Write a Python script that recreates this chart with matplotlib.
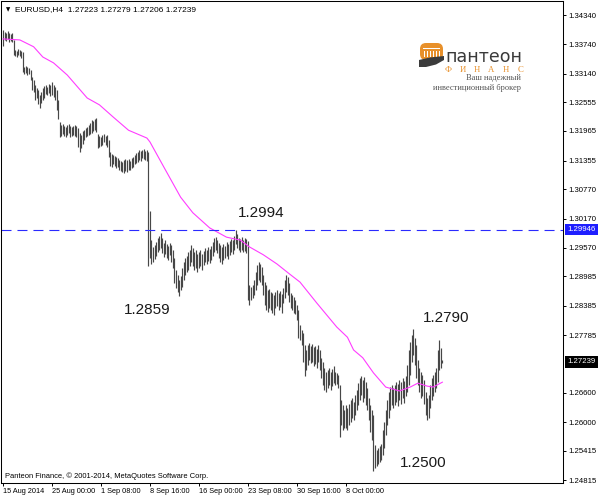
import numpy as np
import matplotlib
matplotlib.use('Agg')
import matplotlib.pyplot as plt
from matplotlib import transforms
from matplotlib.patches import FancyBboxPatch, Rectangle, Polygon

plt.rcParams['font.family'] = ['Liberation Sans', 'DejaVu Sans']
plt.rcParams['lines.scale_dashes'] = False

### DATA ###
symbol_header = 'EURUSD,H4  1.27223 1.27279 1.27206 1.27239'

# H4 bars, high / low per bar (bar index 0 = 15 Aug 2014)
high = [
    1.3403, 1.3399, 1.3397, 1.3401, 1.3397, 1.3395, 1.3397, 1.3383, 1.3362, 1.3360, 1.3364, 1.3362, 1.3360, 1.3358, 1.3328, 1.3330,
    1.3328, 1.3325, 1.3321, 1.3307, 1.3301, 1.3291, 1.3284, 1.3280, 1.3270, 1.3276, 1.3284, 1.3289, 1.3291, 1.3287, 1.3293, 1.3291,
    1.3297, 1.3291, 1.3287, 1.3280, 1.3260, 1.3215, 1.3209, 1.3211, 1.3207, 1.3205, 1.3209, 1.3211, 1.3207, 1.3205, 1.3207, 1.3209,
    1.3207, 1.3203, 1.3192, 1.3188, 1.3196, 1.3198, 1.3203, 1.3205, 1.3209, 1.3213, 1.3219, 1.3217, 1.3221, 1.3223, 1.3190, 1.3186,
    1.3184, 1.3188, 1.3190, 1.3186, 1.3188, 1.3178, 1.3153, 1.3149, 1.3147, 1.3145, 1.3143, 1.3141, 1.3137, 1.3135, 1.3133, 1.3137,
    1.3139, 1.3137, 1.3139, 1.3135, 1.3141, 1.3143, 1.3147, 1.3151, 1.3153, 1.3157, 1.3155, 1.3157, 1.3160, 1.3155, 1.3157, 1.3153,
    1.3033, 1.2973, 1.2959, 1.2963, 1.2969, 1.2977, 1.2981, 1.2988, 1.2977, 1.2967, 1.2973, 1.2965, 1.2961, 1.2967, 1.2963, 1.2953,
    1.2936, 1.2912, 1.2902, 1.2891, 1.2899, 1.2916, 1.2928, 1.2936, 1.2940, 1.2949, 1.2953, 1.2963, 1.2957, 1.2949, 1.2953, 1.2945,
    1.2949, 1.2953, 1.2945, 1.2951, 1.2957, 1.2953, 1.2959, 1.2955, 1.2961, 1.2969, 1.2977, 1.2979, 1.2973, 1.2967, 1.2963, 1.2959,
    1.2965, 1.2961, 1.2969, 1.2965, 1.2971, 1.2975, 1.2973, 1.2981, 1.2994, 1.2985, 1.2977, 1.2975, 1.2979, 1.2973, 1.2977, 1.2975,
    1.2971, 1.2881, 1.2877, 1.2881, 1.2891, 1.2908, 1.2922, 1.2928, 1.2924, 1.2918, 1.2902, 1.2887, 1.2881, 1.2871, 1.2873, 1.2867,
    1.2865, 1.2861, 1.2867, 1.2871, 1.2865, 1.2869, 1.2863, 1.2875, 1.2891, 1.2902, 1.2897, 1.2885, 1.2865, 1.2861, 1.2857, 1.2850,
    1.2840, 1.2830, 1.2799, 1.2789, 1.2783, 1.2758, 1.2748, 1.2758, 1.2762, 1.2756, 1.2760, 1.2754, 1.2756, 1.2750, 1.2758, 1.2748,
    1.2732, 1.2723, 1.2711, 1.2703, 1.2707, 1.2711, 1.2703, 1.2709, 1.2715, 1.2703, 1.2701, 1.2697, 1.2676, 1.2646, 1.2635, 1.2625,
    1.2635, 1.2629, 1.2637, 1.2646, 1.2650, 1.2641, 1.2656, 1.2666, 1.2680, 1.2691, 1.2695, 1.2686, 1.2693, 1.2682, 1.2670, 1.2650,
    1.2635, 1.2625, 1.2615, 1.2553, 1.2543, 1.2547, 1.2551, 1.2555, 1.2584, 1.2600, 1.2625, 1.2646, 1.2662, 1.2672, 1.2676, 1.2670,
    1.2676, 1.2682, 1.2678, 1.2686, 1.2682, 1.2691, 1.2684, 1.2695, 1.2717, 1.2748, 1.2764, 1.2779, 1.2790, 1.2772, 1.2758, 1.2727,
    1.2711, 1.2703, 1.2697, 1.2686, 1.2662, 1.2650, 1.2656, 1.2676, 1.2691, 1.2697, 1.2703, 1.2711, 1.2748, 1.2768, 1.2752, 1.27279,
]
low = [
    1.3371, 1.3383, 1.3381, 1.3385, 1.3379, 1.3381, 1.3379, 1.3352, 1.3350, 1.3348, 1.3352, 1.3350, 1.3346, 1.3317, 1.3313, 1.3315,
    1.3311, 1.3313, 1.3301, 1.3280, 1.3276, 1.3260, 1.3264, 1.3252, 1.3244, 1.3254, 1.3260, 1.3264, 1.3272, 1.3270, 1.3274, 1.3268,
    1.3270, 1.3266, 1.3260, 1.3240, 1.3221, 1.3184, 1.3186, 1.3190, 1.3186, 1.3184, 1.3188, 1.3192, 1.3184, 1.3186, 1.3188, 1.3186,
    1.3184, 1.3164, 1.3153, 1.3162, 1.3170, 1.3178, 1.3184, 1.3186, 1.3188, 1.3190, 1.3192, 1.3196, 1.3198, 1.3194, 1.3162, 1.3164,
    1.3166, 1.3168, 1.3174, 1.3168, 1.3164, 1.3143, 1.3125, 1.3123, 1.3129, 1.3125, 1.3121, 1.3123, 1.3116, 1.3114, 1.3112, 1.3110,
    1.3114, 1.3112, 1.3116, 1.3116, 1.3121, 1.3123, 1.3129, 1.3131, 1.3133, 1.3137, 1.3135, 1.3141, 1.3139, 1.3137, 1.3135, 1.2920,
    1.2936, 1.2924, 1.2928, 1.2934, 1.2940, 1.2949, 1.2953, 1.2957, 1.2947, 1.2938, 1.2945, 1.2936, 1.2932, 1.2943, 1.2928, 1.2916,
    1.2885, 1.2875, 1.2867, 1.2859, 1.2871, 1.2877, 1.2891, 1.2902, 1.2908, 1.2912, 1.2920, 1.2928, 1.2920, 1.2912, 1.2916, 1.2908,
    1.2916, 1.2920, 1.2912, 1.2922, 1.2928, 1.2924, 1.2930, 1.2926, 1.2932, 1.2940, 1.2949, 1.2953, 1.2947, 1.2936, 1.2928, 1.2924,
    1.2932, 1.2936, 1.2940, 1.2934, 1.2943, 1.2949, 1.2945, 1.2953, 1.2965, 1.2957, 1.2953, 1.2949, 1.2953, 1.2949, 1.2951, 1.2947,
    1.2850, 1.2840, 1.2850, 1.2854, 1.2861, 1.2871, 1.2881, 1.2891, 1.2887, 1.2881, 1.2861, 1.2840, 1.2830, 1.2826, 1.2834, 1.2830,
    1.2824, 1.2820, 1.2834, 1.2838, 1.2830, 1.2836, 1.2824, 1.2844, 1.2854, 1.2867, 1.2861, 1.2846, 1.2834, 1.2830, 1.2824, 1.2822,
    1.2809, 1.2772, 1.2768, 1.2758, 1.2723, 1.2695, 1.2707, 1.2717, 1.2727, 1.2721, 1.2723, 1.2715, 1.2719, 1.2711, 1.2723, 1.2707,
    1.2691, 1.2676, 1.2666, 1.2662, 1.2670, 1.2676, 1.2666, 1.2674, 1.2680, 1.2676, 1.2678, 1.2670, 1.2570, 1.2594, 1.2584, 1.2588,
    1.2588, 1.2584, 1.2594, 1.2600, 1.2609, 1.2605, 1.2615, 1.2625, 1.2635, 1.2646, 1.2656, 1.2641, 1.2650, 1.2635, 1.2625, 1.2605,
    1.2580, 1.2564, 1.2500, 1.2506, 1.2510, 1.2514, 1.2519, 1.2523, 1.2533, 1.2547, 1.2574, 1.2594, 1.2609, 1.2625, 1.2635, 1.2629,
    1.2635, 1.2641, 1.2633, 1.2646, 1.2637, 1.2650, 1.2639, 1.2654, 1.2662, 1.2676, 1.2697, 1.2723, 1.2738, 1.2717, 1.2691, 1.2676,
    1.2662, 1.2650, 1.2654, 1.2637, 1.2615, 1.2605, 1.2609, 1.2629, 1.2646, 1.2654, 1.2662, 1.2670, 1.2682, 1.2707, 1.2711, 1.27206,
]

# moving average (magenta), read at these bars
ma_idx = [0, 11, 20, 26, 33, 42, 55, 63, 72, 82, 94, 96, 105, 116, 124, 135, 146, 155, 161, 170,
          179, 187, 194, 205, 218, 225, 229, 235, 242, 250, 259, 266, 271, 277, 281, 287]
ma_val = [1.3385, 1.3383, 1.3369, 1.3348, 1.3336, 1.3311, 1.3264, 1.3250, 1.3225, 1.3198, 1.3182, 1.3174,
          1.3123, 1.3061, 1.3029, 1.2998, 1.2979, 1.2973, 1.2959, 1.2943, 1.2924, 1.2904, 1.2887, 1.2844,
          1.2795, 1.2774, 1.2748, 1.2732, 1.2701, 1.2672, 1.2664, 1.2672, 1.2680, 1.2674, 1.2672, 1.2682]

hline_level = 1.29946
last_price = 1.27239

xtick_pos = [0, 32, 64, 96, 128, 160, 192, 224]
xtick_labels = ['15 Aug 2014', '25 Aug 00:00', '1 Sep 08:00', '8 Sep 16:00',
                '16 Sep 00:00', '23 Sep 08:00', '30 Sep 16:00', '8 Oct 00:00']
ytick_vals = [1.34340, 1.33740, 1.33140, 1.32555, 1.31965, 1.31355, 1.30770, 1.30170,
              1.29570, 1.28985, 1.28385, 1.27785, 1.26600, 1.26000, 1.25415, 1.24815]

# level annotations: (bar, price, text)
notes = [(168.5, 1.3028, '1.2994'), (94, 1.2830, '1.2859'),
         (289.4, 1.2813, '1.2790'), (274.3, 1.2517, '1.2500')]

### FIGURE ###
W, H = 600, 499
fig = plt.figure(figsize=(6, 4.99), dpi=100)
ax = fig.add_axes([1 / W, 16 / H, 562 / W, 482 / H])

idx = np.arange(len(high))
ax.vlines(idx, low, high, colors='#474747', lw=0.85)
ax.plot(ma_idx, ma_val, color='#ff3cff', lw=0.8)
ax.axhline(hline_level, color='#2a2aff', lw=0.8, dashes=(7.2, 4.3))

ax.set_xlim(-1.3, 365.8)
ax.set_ylim(1.24755, 1.34627)

ax.set_xticks(xtick_pos)
ax.set_xticklabels(xtick_labels, ha='left', fontsize=5.3)
ax.yaxis.tick_right()
ax.set_yticks(ytick_vals)
ax.set_yticklabels([f'{v:.5f}' for v in ytick_vals], fontsize=5.6)
ax.tick_params(axis='both', length=2.2, width=0.7, pad=1.5, colors='black')
for s in ax.spines.values():
    s.set_linewidth(0.75)
    s.set_color('black')

# price labels on the right scale
trans = transforms.blended_transform_factory(ax.transAxes, ax.transData)
ax.text(1.0 + 4 / 562, hline_level, f'{hline_level:.5f}', transform=trans, ha='left', va='center',
        fontsize=5.6, color='white', clip_on=False,
        bbox=dict(boxstyle='square,pad=0.3', fc='#1e1eff', ec='none'))
ax.text(1.0 + 4 / 562, last_price, f'{last_price:.5f}', transform=trans, ha='left', va='center',
        fontsize=5.6, color='white', clip_on=False,
        bbox=dict(boxstyle='square,pad=0.3', fc='black', ec='none'))

for bx, by, t in notes:
    ax.text(bx, by, t, ha='center', va='center', fontsize=11, color='#1a1a1a')

# header and footer
fig.text(6 / W, 1 - 10 / H, '\u25bc', fontsize=4, va='center', family=['DejaVu Sans'])
fig.text(15 / W, 1 - 10 / H, symbol_header, fontsize=6, va='center')
fig.text(5 / W, 1 - 476 / H, 'Panteon Finance, \u00a9 2001-2014, MetaQuotes Software Corp.',
         fontsize=5.4, va='center')

# logo
lax = fig.add_axes([415 / W, 1 - 70 / H, 35 / W, 30 / H])
lax.set_xlim(415, 450)
lax.set_ylim(70, 40)
lax.axis('off')
lax.add_patch(FancyBboxPatch((420, 43), 23, 17, boxstyle='round,pad=0,rounding_size=6',
                             fc='#e8902a', ec='none'))
lax.add_patch(Rectangle((423, 48), 17, 1.3, fc='white', ec='none'))
for k in range(6):
    lax.add_patch(Rectangle((424 + 3 * k, 50.5), 1.3, 7, fc='white', ec='none'))
lax.add_patch(Polygon([(419, 67), (419, 60), (430, 57.5), (444, 56), (444, 60), (436, 64.5), (426, 67)],
                      closed=True, fc='#3b3b3b', ec='none'))

fig.text(445 / W, 1 - 62 / H, 'пантеон', fontsize=12.6, color='#3a3a3a', va='baseline',
         family=['DejaVu Sans'])
for k, ch in enumerate('ФИНАНС'):
    fig.text((448 + 14.5 * k) / W, 1 - 69.5 / H, ch, fontsize=6.3, color='#e8902a',
             ha='center', va='center', family=['Liberation Serif', 'DejaVu Serif'])
fig.text(521 / W, 1 - 78.5 / H, 'Ваш надежный', fontsize=6, color='#555555',
         ha='right', va='center', family=['Liberation Serif', 'DejaVu Serif'])
fig.text(521 / W, 1 - 88.5 / H, 'инвестиционный брокер', fontsize=6, color='#555555',
         ha='right', va='center', family=['Liberation Serif', 'DejaVu Serif'])

fig.savefig('out.png', dpi=100)
